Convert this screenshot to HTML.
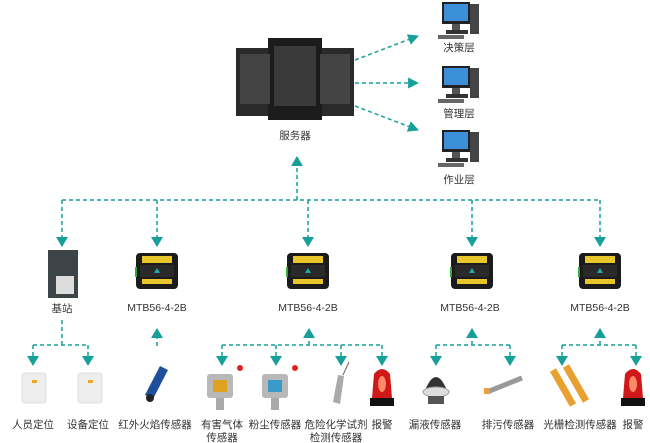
<!DOCTYPE html>
<html><head><meta charset="utf-8"><style>
body{margin:0;background:#fff;}
svg{display:block;font-family:"Liberation Sans","Noto Sans CJK SC",sans-serif;}
text{font-size:10.5px;fill:#333;text-anchor:middle;}
</style></head><body>
<svg width="650" height="443" viewBox="0 0 650 443" xmlns="http://www.w3.org/2000/svg">
<defs>
<marker id="a" viewBox="0 0 10 12" refX="9" refY="6" markerWidth="10" markerHeight="12" orient="auto" markerUnits="userSpaceOnUse"><path d="M0,0 L10,6 L0,12z" fill="#17a09a"/></marker>
<marker id="r" viewBox="0 0 10 10" refX="9" refY="5" markerWidth="11" markerHeight="11" orient="auto" markerUnits="userSpaceOnUse"><path d="M0,0 L10,5 L0,10z" fill="#17a09a"/></marker>
<g id="mtb"><rect x="0" y="0" width="42" height="36" rx="4" fill="#1b1b1b"/><rect x="6" y="3" width="30" height="7" fill="#e8c52a"/><rect x="4" y="12" width="34" height="12" fill="#2a2a2a"/><path d="M18,20 l3,-5 l3,5z" fill="#2aa"/><rect x="6" y="26" width="30" height="5" fill="#e8c52a"/><rect x="-1" y="14" width="2" height="10" fill="#3a3"/></g>
<g id="pc"><rect x="4" y="0" width="28" height="22" fill="#222"/><rect x="6" y="2" width="24" height="17" fill="#3a8fd8"/><rect x="14" y="22" width="8" height="6" fill="#555"/><rect x="8" y="28" width="22" height="4" fill="#333"/><rect x="32" y="2" width="9" height="30" fill="#444"/><rect x="0" y="33" width="26" height="4" fill="#666"/></g>
<g id="alarm"><path d="M-10,28 L-8,4 Q0,-6 8,4 L10,28z" fill="#d01818"/><ellipse cx="0" cy="14" rx="4" ry="8" fill="#ff8a6a"/><rect x="-12" y="28" width="24" height="8" fill="#111"/></g>
</defs>
<g fill="none" stroke="#17a09a" stroke-width="1.5" stroke-dasharray="4,3">
<path d="M355,60 L418,36" marker-end="url(#r)"/>
<path d="M355,83 L418,83" marker-end="url(#r)"/>
<path d="M355,106 L418,130" marker-end="url(#r)"/>
<path d="M297,200 L297,157" marker-end="url(#a)"/>
<path d="M62,200 L600,200"/>
<path d="M62,200 L62,246" marker-end="url(#a)"/>
<path d="M157,200 L157,246" marker-end="url(#a)"/>
<path d="M308,200 L308,246" marker-end="url(#a)"/>
<path d="M472,200 L472,246" marker-end="url(#a)"/>
<path d="M600,200 L600,246" marker-end="url(#a)"/>
<path d="M62,320 L62,345 M33,345 L88,345"/>
<path d="M33,345 L33,365" marker-end="url(#a)"/><path d="M88,345 L88,365" marker-end="url(#a)"/>
<path d="M157,346 L157,329" marker-end="url(#a)"/>
<path d="M309,345 L309,329" marker-end="url(#a)"/><path d="M222,345 L382,345"/>
<path d="M222,345 L222,365" marker-end="url(#a)"/><path d="M276,345 L276,365" marker-end="url(#a)"/><path d="M341,345 L341,365" marker-end="url(#a)"/><path d="M382,345 L382,365" marker-end="url(#a)"/>
<path d="M472,345 L472,329" marker-end="url(#a)"/><path d="M436,345 L510,345"/>
<path d="M436,345 L436,365" marker-end="url(#a)"/><path d="M510,345 L510,365" marker-end="url(#a)"/>
<path d="M600,345 L600,329" marker-end="url(#a)"/><path d="M562,345 L636,345"/>
<path d="M562,345 L562,365" marker-end="url(#a)"/><path d="M636,345 L636,365" marker-end="url(#a)"/>
</g>
<!-- server -->
<rect x="236" y="48" width="38" height="68" fill="#2a2a2a"/>
<rect x="314" y="48" width="40" height="68" fill="#2a2a2a"/>
<rect x="268" y="38" width="54" height="82" fill="#1c1c1c"/>
<rect x="274" y="46" width="42" height="60" fill="#3a3a3a"/>
<rect x="240" y="54" width="30" height="50" fill="#444"/><rect x="320" y="54" width="30" height="50" fill="#444"/>
<text x="295" y="139">服务器</text>
<use href="#pc" x="438" y="2"/><text x="459" y="51">决策层</text>
<use href="#pc" x="438" y="66"/><text x="459" y="117">管理层</text>
<use href="#pc" x="438" y="130"/><text x="459" y="183">作业层</text>
<!-- base station -->
<rect x="48" y="250" width="30" height="48" fill="#3c4448"/><rect x="56" y="276" width="18" height="18" fill="#ddd"/>
<text x="62" y="312">基站</text>
<use href="#mtb" x="136" y="253"/><text x="157" y="311">MTB56-4-2B</text>
<use href="#mtb" x="287" y="253"/><text x="308" y="311">MTB56-4-2B</text>
<use href="#mtb" x="451" y="253"/><text x="470" y="311">MTB56-4-2B</text>
<use href="#mtb" x="579" y="253"/><text x="600" y="311">MTB56-4-2B</text>
<!-- devices -->
<rect x="22" y="373" width="24" height="30" rx="3" fill="#eee" stroke="#ddd"/><rect x="32" y="380" width="5" height="3" fill="#f5a623"/>
<rect x="78" y="373" width="24" height="30" rx="3" fill="#eee" stroke="#ddd"/><rect x="88" y="380" width="5" height="3" fill="#f5a623"/>
<path d="M145,395 L160,366 L168,370 L153,399z" fill="#1d4f9a"/><circle cx="150" cy="398" r="4" fill="#222"/>
<rect x="207" y="374" width="26" height="24" rx="3" fill="#b8b8b8"/><rect x="213" y="380" width="14" height="12" fill="#e0a020"/><rect x="216" y="398" width="8" height="12" fill="#aaa"/><circle cx="240" cy="368" r="3" fill="#d22"/>
<rect x="262" y="374" width="26" height="24" rx="3" fill="#b8b8b8"/><rect x="268" y="380" width="14" height="12" fill="#3a9ac8"/><rect x="271" y="398" width="8" height="12" fill="#aaa"/><circle cx="295" cy="368" r="3" fill="#d22"/>
<path d="M333,402 L338,375 L344,376 L340,404z" fill="#aaa"/><path d="M343,375 L349,362" stroke="#666"/>
<use href="#alarm" x="382" y="370"/>
<path d="M426,388 Q436,366 446,388z" fill="#333"/><ellipse cx="436" cy="392" rx="13" ry="5" fill="#ddd" stroke="#999"/><rect x="428" y="396" width="16" height="8" fill="#555"/>
<path d="M487,392 L522,378" stroke="#999" stroke-width="5"/><rect x="484" y="388" width="6" height="6" fill="#e8a040"/>
<path d="M553,370 L573,405" stroke="#e8a030" stroke-width="7"/><path d="M566,366 L586,401" stroke="#e8a030" stroke-width="7"/>
<use href="#alarm" x="633" y="370"/>
<text x="33" y="428">人员定位</text><text x="88" y="428">设备定位</text><text x="155" y="428">红外火焰传感器</text>
<text x="222" y="428">有害气体</text><text x="222" y="441">传感器</text>
<text x="275" y="428">粉尘传感器</text>
<text x="336" y="428">危险化学试剂</text><text x="336" y="441">检测传感器</text>
<text x="382" y="428">报警</text><text x="435" y="428">漏液传感器</text><text x="508" y="428">排污传感器</text>
<text x="580" y="428">光栅检测传感器</text><text x="633" y="428">报警</text>
</svg>
</body></html>
